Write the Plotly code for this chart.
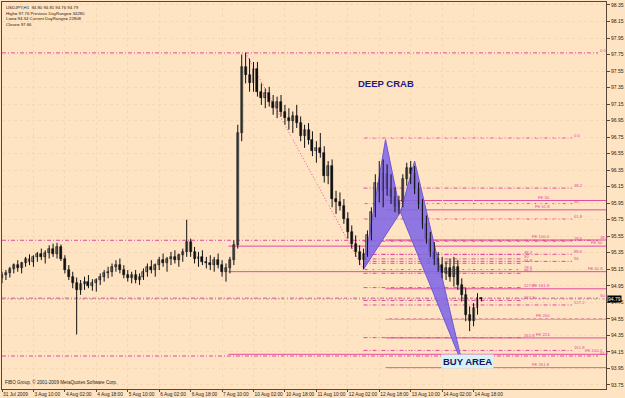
import plotly.graph_objects as go

# ---------------- data ----------------
bar_open = [95.05, 95.08, 95.10, 95.15, 95.20, 95.16, 95.22, 95.27, 95.24, 95.30, 95.33, 95.30, 95.35, 95.40, 95.34,
            95.42, 95.28, 95.14, 95.06, 94.98, 94.90, 94.97, 95.00, 94.95, 94.98, 95.02, 95.06, 95.10, 95.12, 95.18,
            95.20, 95.14, 95.08, 95.04, 95.08, 95.02, 95.06, 95.12, 95.18, 95.14, 95.20, 95.26, 95.22, 95.28, 95.30,
            95.26, 95.32, 95.36, 95.48, 95.36, 95.28, 95.30, 95.24, 95.22, 95.20, 95.26, 95.20, 95.12, 95.16, 95.26,
            95.44, 96.80, 97.60, 97.50, 97.40, 97.58, 97.30, 97.22, 97.28, 97.18, 97.10, 97.18, 97.06, 96.98, 96.94,
            97.00, 96.92, 96.76, 96.84, 96.72, 96.58, 96.62, 96.56, 96.28, 96.40, 96.00, 95.96, 95.92, 95.76, 95.60,
            95.46, 95.36, 95.26, 95.34, 95.56, 95.84, 96.20, 96.10, 96.30, 96.12, 96.02, 95.90, 95.96, 96.24, 96.38,
            96.30, 96.12, 95.94, 95.70, 95.52, 95.36, 95.28, 95.20, 95.10, 95.16, 95.06, 95.18, 94.96, 94.84, 94.60,
            94.52, 94.68, 94.80]
bar_high = [95.12, 95.14, 95.18, 95.22, 95.26, 95.24, 95.30, 95.33, 95.32, 95.36, 95.40, 95.38, 95.44, 95.46, 95.47,
            95.45, 95.32, 95.20, 95.12, 95.05, 95.02, 95.06, 95.08, 95.03, 95.04, 95.10, 95.14, 95.18, 95.22, 95.26,
            95.28, 95.20, 95.14, 95.12, 95.14, 95.10, 95.16, 95.22, 95.26, 95.22, 95.30, 95.34, 95.30, 95.36, 95.38,
            95.34, 95.40, 95.75, 95.52, 95.42, 95.36, 95.38, 95.30, 95.32, 95.30, 95.34, 95.26, 95.22, 95.30, 95.50,
            96.90, 97.75, 97.77, 97.70, 97.66, 97.66, 97.40, 97.34, 97.36, 97.26, 97.24, 97.26, 97.14, 97.10, 97.06,
            97.14, 97.00, 96.90, 96.92, 96.82, 96.70, 96.80, 96.64, 96.46, 96.48, 96.10, 96.08, 96.00, 95.84, 95.68,
            95.56, 95.44, 95.40, 95.62, 95.90, 96.30, 96.46, 96.48, 96.42, 96.30, 96.14, 96.04, 96.30, 96.44, 96.46,
            96.40, 96.20, 96.00, 95.80, 95.60, 95.48, 95.36, 95.30, 95.24, 95.28, 95.30, 95.26, 95.04, 94.92, 94.70,
            94.74, 94.86, 94.81]
bar_low = [94.98, 95.02, 95.05, 95.10, 95.12, 95.10, 95.18, 95.20, 95.18, 95.24, 95.26, 95.22, 95.28, 95.30, 95.28,
           95.25, 95.10, 95.02, 94.92, 94.36, 94.84, 94.90, 94.92, 94.89, 94.88, 94.96, 95.00, 95.04, 95.06, 95.12,
           95.10, 95.04, 95.00, 94.98, 94.98, 94.96, 95.02, 95.06, 95.10, 95.06, 95.14, 95.18, 95.12, 95.20, 95.22,
           95.18, 95.24, 95.30, 95.30, 95.22, 95.18, 95.20, 95.16, 95.14, 95.12, 95.16, 95.06, 95.00, 95.10, 95.20,
           95.40, 96.70, 97.40, 97.30, 97.30, 97.24, 97.14, 97.10, 97.12, 97.02, 96.98, 97.00, 96.90, 96.84, 96.80,
           96.86, 96.70, 96.62, 96.66, 96.52, 96.44, 96.50, 96.20, 96.18, 95.90, 95.82, 95.86, 95.70, 95.52, 95.40,
           95.30, 95.20, 95.15, 95.30, 95.50, 95.78, 95.96, 95.90, 96.04, 95.94, 95.84, 95.82, 95.90, 96.16, 96.18,
           96.06, 95.88, 95.64, 95.46, 95.30, 95.20, 95.12, 95.04, 95.02, 95.00, 94.94, 94.90, 94.76, 94.52, 94.40,
           94.46, 94.60, 94.76]
bar_close = [95.08, 95.10, 95.15, 95.20, 95.16, 95.22, 95.27, 95.24, 95.30, 95.33, 95.30, 95.35, 95.40, 95.34, 95.42,
             95.28, 95.14, 95.06, 94.98, 94.90, 94.97, 95.00, 94.95, 94.98, 95.02, 95.06, 95.10, 95.12, 95.18, 95.20,
             95.14, 95.08, 95.04, 95.08, 95.02, 95.06, 95.12, 95.18, 95.14, 95.20, 95.26, 95.22, 95.28, 95.30, 95.26,
             95.32, 95.36, 95.48, 95.36, 95.28, 95.30, 95.24, 95.22, 95.20, 95.26, 95.20, 95.12, 95.16, 95.26, 95.44,
             96.80, 97.60, 97.50, 97.40, 97.58, 97.30, 97.22, 97.28, 97.18, 97.10, 97.18, 97.06, 96.98, 96.94, 97.00,
             96.92, 96.76, 96.84, 96.72, 96.58, 96.62, 96.56, 96.28, 96.40, 96.00, 95.96, 95.92, 95.76, 95.60, 95.46,
             95.36, 95.26, 95.34, 95.56, 95.84, 96.20, 96.10, 96.30, 96.12, 96.02, 95.90, 95.96, 96.24, 96.38, 96.30,
             96.12, 95.94, 95.70, 95.52, 95.36, 95.28, 95.20, 95.10, 95.16, 95.06, 95.18, 94.96, 94.84, 94.60, 94.52,
             94.68, 94.80, 94.79]
bar_index = list(range(len(bar_open)))

time_tick_index = [0, 8, 16, 24, 32, 40, 48, 56, 64, 72, 80, 88, 96, 104, 112, 120]
time_tick_text = ["31 Jul 2009", "3 Aug 10:00", "4 Aug 02:00", "4 Aug 18:00", "5 Aug 10:00", "6 Aug 02:00",
                  "6 Aug 18:00", "7 Aug 10:00", "10 Aug 02:00", "10 Aug 18:00", "11 Aug 10:00", "12 Aug 02:00",
                  "12 Aug 18:00", "13 Aug 10:00", "14 Aug 02:00", "14 Aug 18:00"]
price_tick_values = [93.75, 93.95, 94.15, 94.35, 94.55, 94.75, 94.95, 95.15, 95.35, 95.55, 95.75, 95.95,
                     96.15, 96.35, 96.55, 96.75, 96.95, 97.15, 97.35, 97.55, 97.75, 97.95, 98.15, 98.35]

# harmonic pattern points X, A, B, C, D
pattern_index = [92, 97.6, 101.4, 105, 117.3]
pattern_price = [95.15, 96.72, 95.84, 96.46, 93.98]

# dotted trend line (high -> X)
trend_index = [62, 92]
trend_price = [97.77, 95.15]

# large fibo retracement (full width)
big_fib_from, big_fib_to = 97.77, 91.83
big_fib_levels = [0.0, 38.2, 50.0, 61.8]
big_fib_text = ["0.0", "38.2", "50.0", "61.8"]

# XA retracement
xa_fib_from, xa_fib_to = 96.74, 95.15
xa_fib_levels = [0.0, 38.2, 50.0, 61.8, 78.6, 88.6, 94.0, 127.2, 161.8]
xa_fib_text = ["0.0", "38.2", "50", "61.8", "78.6", "88.6", "94", "127.2", "161.8"]

# small retracement
sm_fib_from, sm_fib_to = 95.50, 95.05
sm_fib_levels = [38.2, 50.0, 61.8, 78.6, 88.6, 127.2, 161.8, 261.8]
sm_fib_text = ["38.2", "50", "61.8", "78.6", "88.6", "127.2", "161.8", "261.8"]

# fibo expansions
fe_a_origin, fe_a_unit = 96.46, 0.956
fe_a_levels = [50.0, 61.8, 100.0, 161.8, 200.0, 224.0, 261.8]
fe_a_text = ["FE 50", "FE 61.8", "FE 100.0", "FE 161.8", "FE 200", "FE 224", "FE 261.8"]
fe_b_origin, fe_b_unit = 96.74, 2.62
fe_b_levels = [50.0, 61.8, 100.0]
fe_b_text = ["FE 50", "FE 61.8", "FE 100.0"]
fe_b_start_index = 57.6

last_price = 94.79
header_lines = ["USDJPY,H1  94.80 94.81 94.76 94.79",
                "High= 97.76 Previous DayRange= 34280",
                "Low= 94.34 Current DayRange= 22808",
                "Close= 97.66"]
copyright_text = "FIBO Group, © 2001-2009 MetaQuotes Software Corp."

# ---------------- layout helpers ----------------
W, H = 625, 398
PL, PR, PT, PB = 2, 606, 2, 389          # plot area pixel box
X_RANGE = [0, 153.7]
Y_RANGE = [93.70, 98.386]
BG = "#FFE4C4"
PINK = "#E24A9E"
FRAME = "#5A4636"
GRID = "#F5D8B6"
FONT = "Liberation Sans, Arial, sans-serif"


def px_x(px):
    return X_RANGE[0] + (px - PL) / (PR - PL) * (X_RANGE[1] - X_RANGE[0])


def px_y(py):
    return Y_RANGE[1] - (py - PT) / (PB - PT) * (Y_RANGE[1] - Y_RANGE[0])


fig = go.Figure()
shapes = []
annos = []

for tri in ([0, 1, 2], [2, 3, 4]):
    fig.add_trace(go.Scatter(
        x=[pattern_index[k] for k in tri] + [pattern_index[tri[0]]],
        y=[pattern_price[k] for k in tri] + [pattern_price[tri[0]]],
        mode="lines", fill="toself", fillcolor="rgba(128,102,228,0.88)",
        line=dict(color="#7058D6", width=1), hoverinfo="skip", showlegend=False))

DASHDOT = "4px,2px,1px,2px"


def hline(x0, x1, y, dash, color=PINK, width=1):
    shapes.append(dict(type="line", xref="x", yref="y", x0=x0, x1=x1, y0=y, y1=y,
                       line=dict(color=color, width=width, dash=dash), layer="below"))


def label(x, y, text, anchor="left", dy=0):
    annos.append(dict(xref="x", yref="y", x=x, y=y, text=text, showarrow=False,
                      xanchor=anchor, yanchor="bottom", yshift=dy,
                      font=dict(family=FONT, size=4.2, color=PINK)))


for lv, tx in zip(big_fib_levels, big_fib_text):
    p = big_fib_from + (big_fib_to - big_fib_from) * lv / 100
    hline(X_RANGE[0], px_x(598), p, DASHDOT)
    label(px_x(598), p, tx, dy=-2)

for lv, tx in zip(xa_fib_levels, xa_fib_text):
    p = xa_fib_from + (xa_fib_to - xa_fib_from) * lv / 100
    hline(pattern_index[0], px_x(572), p, DASHDOT)
    label(px_x(572), p, tx, dy=-2)

for lv, tx in zip(sm_fib_levels, sm_fib_text):
    p = sm_fib_from + (sm_fib_to - sm_fib_from) * lv / 100
    hline(pattern_index[0], px_x(522), p, DASHDOT)
    label(px_x(522), p, tx, dy=-2)

for lv, tx in zip(fe_a_levels, fe_a_text):
    p = fe_a_origin - fe_a_unit * lv / 100
    hline(pattern_index[1], X_RANGE[1], p, "solid")
    label(px_x(552), p, tx, anchor="right", dy=-1)

for lv, tx in zip(fe_b_levels, fe_b_text):
    p = fe_b_origin - fe_b_unit * lv / 100
    hline(fe_b_start_index, X_RANGE[1], p, "solid")
    label(px_x(605), p, tx, anchor="right", dy=-1)

shapes.append(dict(type="line", xref="x", yref="y", x0=trend_index[0], x1=trend_index[1],
                   y0=trend_price[0], y1=trend_price[1],
                   line=dict(color=PINK, width=1, dash="1px,2px"), layer="below"))

hline(X_RANGE[0], X_RANGE[1], last_price, "3px,2px,1px,2px", color="#A9A29A")

wick_x, wick_y = [], []
for i, hi, lo in zip(bar_index, bar_high, bar_low):
    wick_x += [i, i, None]
    wick_y += [lo, hi, None]
fig.add_trace(go.Scatter(x=wick_x, y=wick_y, mode="lines", line=dict(color="#111111", width=1),
                         hoverinfo="skip", showlegend=False))
body_base = [min(o, c) for o, c in zip(bar_open, bar_close)]
body_len = [max(abs(c - o), 0.012) for o, c in zip(bar_open, bar_close)]
body_col = ["#9A9A9A" if c >= o else "#111111" for o, c in zip(bar_open, bar_close)]
fig.add_trace(go.Bar(x=bar_index, y=body_len, base=body_base, width=0.5,
                     marker=dict(color=body_col, line=dict(color="#111111", width=0.6)),
                     hoverinfo="skip", showlegend=False))

annos.append(dict(xref="x", yref="y", x=px_x(386), y=px_y(83), text="<b>DEEP CRAB</b>", showarrow=False,
                  xanchor="center", yanchor="middle",
                  font=dict(family=FONT, size=9.5, color="#1C1C80")))
annos.append(dict(xref="x", yref="y", x=px_x(467), y=px_y(361), text="<b>BUY AREA</b>", showarrow=False,
                  xanchor="center", yanchor="middle", bgcolor="#D6F2F6", borderpad=1,
                  font=dict(family=FONT, size=9.5, color="#15155E")))
annos.append(dict(xref="paper", yref="paper", x=0.003, y=0.997, text="<br>".join(header_lines),
                  showarrow=False, xanchor="left", yanchor="top", align="left",
                  font=dict(family=FONT, size=4.3, color="#2A1A10")))
annos.append(dict(xref="paper", yref="paper", x=0.002, y=(PB - 382) / (PB - PT), text=copyright_text,
                  showarrow=False, xanchor="left", yanchor="middle",
                  font=dict(family=FONT, size=4.6, color="#2A1A10")))
annos.append(dict(xref="paper", yref="y", x=1.0, y=last_price, text="94.79", showarrow=False,
                  xanchor="left", yanchor="middle", bgcolor="#000000", borderpad=0, xshift=1,
                  font=dict(family=FONT, size=5, color="#FFFFFF")))

fig.update_layout(
    width=W, height=H,
    margin=dict(l=PL, r=W - PR, t=PT, b=H - PB),
    paper_bgcolor=BG, plot_bgcolor=BG, bargap=0,
    shapes=shapes, annotations=annos,
    xaxis=dict(range=X_RANGE, showgrid=True,
               gridcolor=GRID, griddash="dot", gridwidth=1,
               tickmode="array", tickvals=time_tick_index, ticktext=time_tick_text,
               ticks="outside", ticklen=2, tickcolor=FRAME, tickangle=0,
               ticklabelposition="outside right", tickfont=dict(family=FONT, size=4.8, color="#2A1A10"),
               showline=True, linecolor=FRAME, linewidth=1, mirror=True, zeroline=False, automargin=False),
    yaxis=dict(range=Y_RANGE, side="right", showgrid=True, gridcolor=GRID, griddash="dot",
               tickmode="array", tickvals=price_tick_values, ticktext=[f"{v:.2f}" for v in price_tick_values],
               ticks="outside", ticklen=3, tickcolor=FRAME,
               tickfont=dict(family=FONT, size=5, color="#2A1A10"),
               showline=True, linecolor=FRAME, linewidth=1, mirror=True, zeroline=False, automargin=False),
)

fig.write_html("out.html")
